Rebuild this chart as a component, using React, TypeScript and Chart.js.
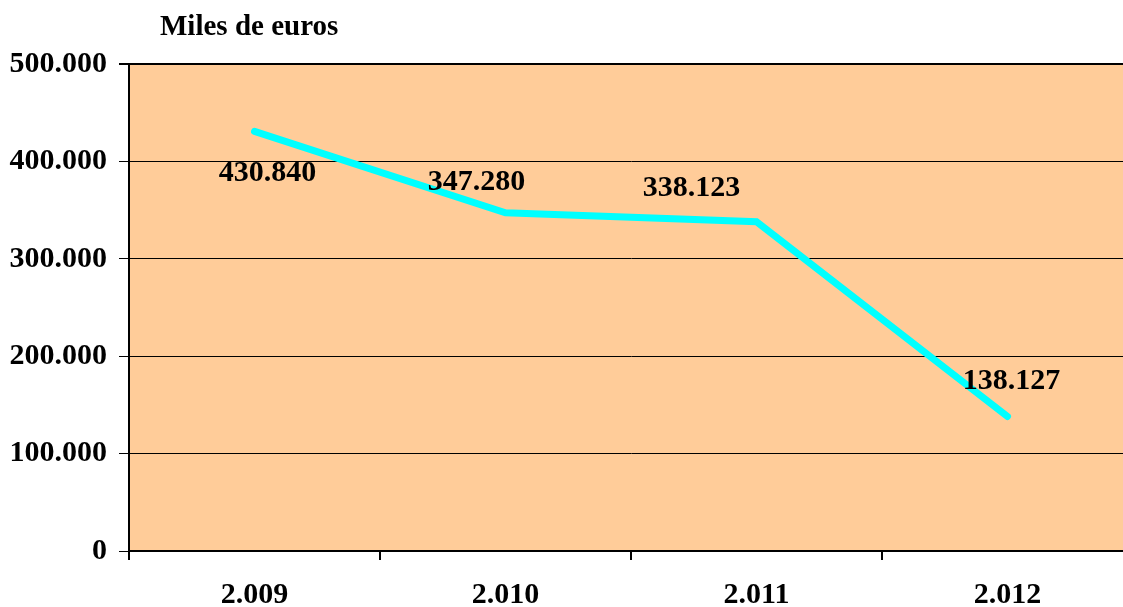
import React, { useEffect, useRef } from "react";
import { Chart, registerables } from "chart.js";

Chart.register(...registerables);

const years = ["2.009", "2.010", "2.011", "2.012"];
const values = [430840, 347280, 338123, 138127];
const yTicksMax = 500000;
const yStep = 100000;
const titleText = "Miles de euros";
// label offsets relative to point (dx, dy) in px
const labelOffsets = [
  [13, 42],
  [-29, -30],
  [-65, -33],
  [4, -35],
];

const FONT = "'Liberation Serif', 'Times New Roman', serif";
const FS = 30;

const fmt = (v: number) =>
  Math.round(v)
    .toString()
    .replace(/\B(?=(\d{3})+(?!\d))/g, ".");

export default function App() {
  const ref = useRef<HTMLCanvasElement>(null);
  useEffect(() => {
    if (!ref.current) return;
    const bgPlugin = {
      id: "bg",
      beforeDraw(chart: any) {
        const { ctx, chartArea } = chart;
        ctx.save();
        ctx.fillStyle = "#FFCC99";
        ctx.fillRect(chartArea.left, chartArea.top, chartArea.right - chartArea.left, chartArea.bottom - chartArea.top);
        ctx.restore();
      },
      afterDraw(chart: any) {
        const { ctx, chartArea } = chart;
        ctx.save();
        ctx.fillStyle = "#000";
        ctx.font = `bold 29px ${FONT}`;
        ctx.textAlign = "left";
        ctx.textBaseline = "alphabetic";
        ctx.fillText(titleText, chartArea.left + 31, 35);
        ctx.restore();
      },
      afterDatasetsDraw(chart: any) {
        const { ctx } = chart;
        const meta = chart.getDatasetMeta(0);
        ctx.save();
        ctx.fillStyle = "#000";
        ctx.font = `bold ${FS}px ${FONT}`;
        ctx.textAlign = "center";
        ctx.textBaseline = "middle";
        meta.data.forEach((pt: any, i: number) => {
          const [dx, dy] = labelOffsets[i];
          ctx.fillText(fmt(values[i]), pt.x + dx, pt.y + dy);
        });
        ctx.restore();
      },
    };
    const chart = new Chart(ref.current, {
      type: "line",
      data: {
        labels: years,
        datasets: [
          {
            data: values,
            borderColor: "#00FFFF",
            borderWidth: 7,
            borderCapStyle: "round",
            borderJoinStyle: "miter",
            pointRadius: 0,
            tension: 0,
            fill: false,
          },
        ],
      },
      options: {
        responsive: false,
        animation: false,
        layout: { padding: { top: 64, right: 0, left: 0, bottom: 0 } },
        plugins: { legend: { display: false }, tooltip: { enabled: false }, title: { display: false } },
        scales: {
          x: {
            offset: true,
            grid: { offset: true, drawOnChartArea: false, color: "#000", lineWidth: 2, tickLength: 9 },
            border: { color: "#000", width: 2 },
            ticks: { color: "#000", font: { family: FONT, size: FS, weight: "bold" }, padding: 17, maxRotation: 0 },
            afterFit(scale: any) {
              scale.height = 56;
            },
          },
          y: {
            min: 0,
            max: yTicksMax,
            grid: {
              color: "#000",
              lineWidth: (c: any) => (c.tick && c.tick.value === yTicksMax ? 2 : 1),
              tickLength: 10,
            },
            border: { color: "#000", width: 2 },
            ticks: {
              stepSize: yStep,
              color: "#000",
              font: { family: FONT, size: FS, weight: "bold" },
              padding: 12,
              callback: (v: any) => fmt(Number(v)),
            },
            afterFit(scale: any) {
              scale.width = 129;
            },
          },
        },
      },
      plugins: [bgPlugin],
    } as any);
    return () => chart.destroy();
  }, []);
  return (
    <div style={{ position: "absolute", left: 0, top: 0, width: 1123, height: 607, overflow: "hidden" }}>
      <canvas
        ref={ref}
        width={1133}
        height={607}
        style={{ display: "block", width: 1133, height: 607 }}
      />
    </div>
  );
}
